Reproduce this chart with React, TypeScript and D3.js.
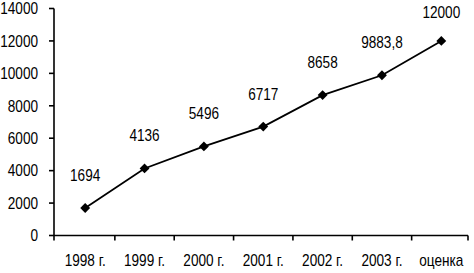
import React from "react";
import * as d3 from "d3";

const categories = ["1998 г.", "1999 г.", "2000 г.", "2001 г.", "2002 г.", "2003 г.", "оценка"];
const values = [1694, 4136, 5496, 6717, 8658, 9883.8, 12000];
const valueLabels = ["1694", "4136", "5496", "6717", "8658", "9883,8", "12000"];
const yTicks = [0, 2000, 4000, 6000, 8000, 10000, 12000, 14000];

function Txt(props: { x: number; y: number; anchor: string; dy?: string; children: React.ReactNode }) {
  return (
    <text
      transform={`translate(${props.x},${props.y}) scale(0.85,1)`}
      textAnchor={props.anchor}
      dy={props.dy}
    >
      {props.children}
    </text>
  );
}

export default function App() {
  const W = 474, H = 273;
  const x0 = 54, x1 = 471, yBottom = 235.5, yTop = 8.5;
  const x = d3.scaleBand<string>().domain(categories).range([x0 + 1.5, x1]);
  const y = d3.scaleLinear().domain([0, 14000]).range([yBottom, yTop]);
  const cx = (i: number) => (x(categories[i]) as number) + x.bandwidth() / 2;
  const line = d3.line<number>().x((_, i) => cx(i)).y((d) => y(d));
  const diamond = d3.symbol().type(d3.symbolDiamond2).size(62)() as string;
  const font = "'Liberation Sans', Arial, sans-serif";
  const boundaries = categories.slice(1).map((c) => x(c) as number).concat([x1 - 3]);
  return (
    <svg width={W} height={H} style={{ position: "absolute", left: 0, top: 0 }}>
      <rect width={W} height={H} fill="#fff" />
      <g fontFamily={font} fontSize={16} fill="#000">
        {/* Y axis */}
        <line x1={x0} x2={x0} y1={yTop} y2={yBottom + 5} stroke="#000" strokeWidth={1.6} />
        {yTicks.map((t) => (
          <g key={t}>
            <line x1={x0 - 5} x2={x0} y1={y(t)} y2={y(t)} stroke="#000" strokeWidth={1.6} />
            <Txt x={38} y={y(t)} dy="0.36em" anchor="end">{t}</Txt>
          </g>
        ))}
        {/* X axis */}
        <line x1={x0} x2={x1 - 3} y1={yBottom} y2={yBottom} stroke="#000" strokeWidth={1.6} />
        {boundaries.map((b, i) => (
          <line key={i} x1={b} x2={b} y1={yBottom} y2={yBottom + 5} stroke="#000" strokeWidth={1.6} />
        ))}
        {categories.map((c, i) => (
          <Txt key={c} x={cx(i)} y={266} anchor="middle">{c}</Txt>
        ))}
        {/* Line */}
        <path d={line(values) as string} fill="none" stroke="#000" strokeWidth={1.8} />
        {values.map((v, i) => (
          <g key={i}>
            <path d={diamond} transform={`translate(${cx(i)},${y(v)})`} fill="#000" />
            <Txt x={cx(i)} y={Math.max(y(v) - 27, 18)} anchor="middle">{valueLabels[i]}</Txt>
          </g>
        ))}
      </g>
    </svg>
  );
}
